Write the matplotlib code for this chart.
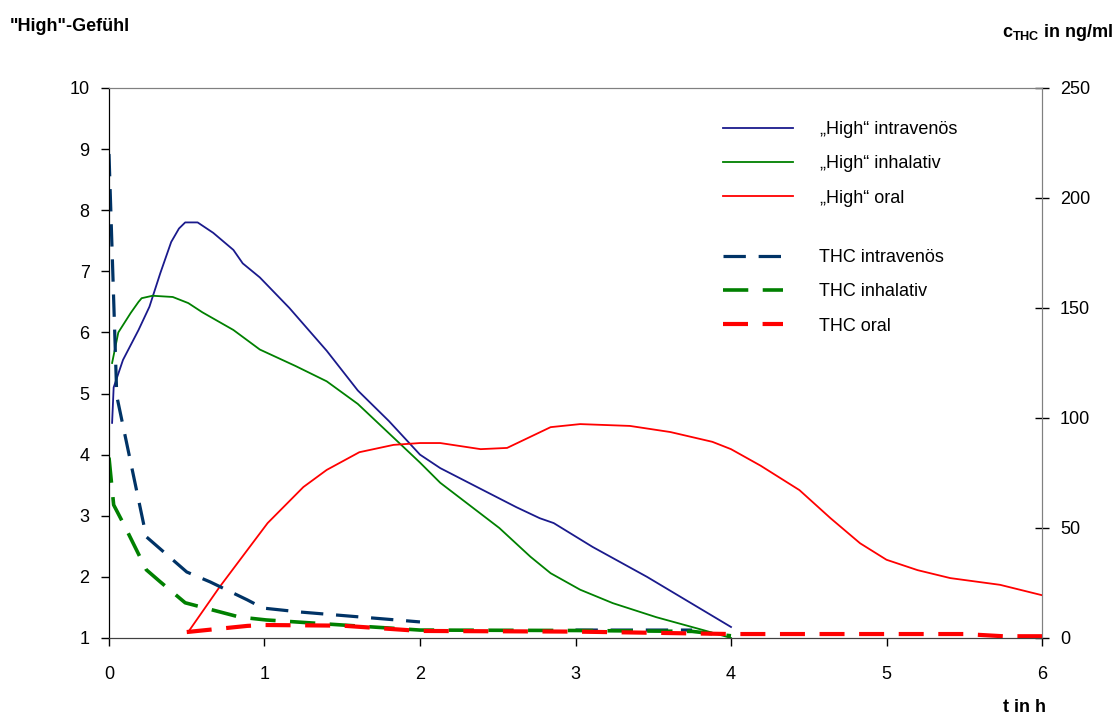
import numpy as np
import matplotlib
matplotlib.use('Agg')
from matplotlib import pyplot as plt
from matplotlib.lines import Line2D

plt.rcParams['font.family'] = ['Liberation Sans', 'DejaVu Sans']
plt.rcParams['mathtext.fontset'] = 'custom'
plt.rcParams['mathtext.bf'] = 'Liberation Sans:bold'
plt.rcParams['mathtext.rm'] = 'Liberation Sans'

# "High"-Gefuehl (linke Achse, Skala 1-10)
t_high_iv = [0.02, 0.03, 0.09, 0.19, 0.26, 0.33, 0.40, 0.45, 0.49, 0.57, 0.67, 0.80, 0.86, 0.97,
             1.16, 1.4, 1.6, 1.8, 2.0, 2.13, 2.39, 2.62, 2.77, 2.86, 3.11, 3.46, 4.0]
high_iv = [4.52, 5.1, 5.55, 6.04, 6.42, 6.97, 7.48, 7.7, 7.8, 7.8, 7.63, 7.35, 7.13, 6.9,
           6.4, 5.7, 5.05, 4.55, 4.0, 3.78, 3.44, 3.14, 2.96, 2.88, 2.49, 2.0, 1.18]

t_high_inh = [0.02, 0.06, 0.14, 0.19, 0.21, 0.28, 0.41, 0.51, 0.60, 0.80, 0.97,
              1.2, 1.4, 1.6, 1.8, 2.0, 2.13, 2.51, 2.71, 2.84, 3.03, 3.24, 3.52, 3.82, 4.0]
high_inh = [5.5, 6.0, 6.32, 6.5, 6.56, 6.6, 6.58, 6.48, 6.33, 6.04, 5.72,
            5.45, 5.2, 4.83, 4.35, 3.87, 3.54, 2.80, 2.33, 2.06, 1.79, 1.57, 1.34, 1.13, 1.0]

t_high_oral = [0.51, 0.71, 0.89, 1.02, 1.25, 1.40, 1.61, 1.83, 2.0, 2.13, 2.39, 2.56, 2.84,
               3.03, 3.35, 3.61, 3.88, 4.0, 4.19, 4.44, 4.64, 4.83, 5.0, 5.2, 5.41, 5.73, 6.0]
high_oral = [1.1, 1.83, 2.44, 2.88, 3.47, 3.75, 4.04, 4.16, 4.19, 4.19, 4.09, 4.11, 4.45,
             4.5, 4.47, 4.37, 4.21, 4.09, 3.82, 3.42, 2.96, 2.55, 2.28, 2.11, 1.98, 1.87, 1.7]

# THC-Konzentration (rechte Achse, ng/ml)
t_thc_iv = [0.0, 0.05, 0.24, 0.50, 0.65, 0.89, 0.99, 1.23, 2.0, 2.5, 3.0, 3.75]
thc_iv = [220, 110, 46, 30, 25.5, 17.3, 13.6, 11.8, 7.3, np.nan, 3.6, 3.6]

t_thc_inh = [0.0, 0.03, 0.10, 0.24, 0.33, 0.49, 0.84, 1.01, 1.5, 2.0, 3.0, 3.75, 4.0]
thc_inh = [82, 60.5, 51, 31, 25.5, 16, 9.5, 8.2, 5.9, 3.6, 3.4, 3.0, 1.0]

t_thc_oral = [0.5, 0.89, 1.0, 1.5, 2.0, 3.0, 4.0, 5.0, 5.5, 5.75, 6.0]
thc_oral = [2.7, 5.5, 5.9, 5.6, 3.2, 2.9, 1.8, 1.8, 1.8, 0.8, 0.8]

fig = plt.figure(figsize=(11.19, 7.17), dpi=100)
ax = fig.add_axes([0.0974, 0.1102, 0.8338, 0.7671])
ax2 = ax.twinx()

navy = '#1a1a8c'
blue_d = '#003366'
green = '#008000'
red = '#ff0000'

ax.plot(t_high_iv, high_iv, color=navy, lw=1.3)
ax.plot(t_high_inh, high_inh, color=green, lw=1.3)
ax.plot(t_high_oral, high_oral, color=red, lw=1.3)

ax2.plot(t_thc_iv, thc_iv, color=blue_d, lw=2.3, dashes=(7, 4))
ax2.plot(t_thc_inh, thc_inh, color=green, lw=2.6, dashes=(7, 4))
ax2.plot(t_thc_oral, thc_oral, color=red, lw=3.0, dashes=(6, 3.5))

ax.set_xlim(0, 6)
ax.set_ylim(1, 10)
ax.set_yticks(range(1, 11))
ax.set_xticks(range(0, 7))
ax2.set_ylim(0, 250)
ax2.set_yticks(range(0, 251, 50))

for a in (ax, ax2):
    a.spines['top'].set_color('#808080')
    a.spines['bottom'].set_color('#404040')
    a.spines['right'].set_color('#808080')
ax.tick_params(labelsize=13, direction='out', length=6, width=1, pad=8)
ax.tick_params(axis='x', pad=14)
ax2.tick_params(labelsize=13, direction='inout', length=10, width=1, pad=8)

fig.text(0.009, 0.963, '"High"-Gefühl', fontsize=13, fontweight='bold', va='center')
fig.text(0.995, 0.955, r'$\mathbf{c_{THC}}$ in ng/ml', fontsize=13, fontweight='bold',
         ha='right', va='center')
fig.text(0.935, 0.013, 't in h', fontsize=13, fontweight='bold', ha='right', va='center')

h_high = [Line2D([], [], color=navy, lw=1.3),
          Line2D([], [], color=green, lw=1.3),
          Line2D([], [], color=red, lw=1.3)]
h_thc = [Line2D([], [], color=blue_d, lw=2.3, dashes=(7, 4)),
         Line2D([], [], color=green, lw=2.6, dashes=(7, 4)),
         Line2D([], [], color=red, lw=3.0, dashes=(6, 3.5))]

leg1 = ax2.legend(h_high, ['„High“ intravenös', '„High“ inhalativ', '„High“ oral'],
                  loc='upper left', bbox_to_anchor=(0.658, 0.9395), frameon=False,
                  fontsize=13, handlelength=3.9, handletextpad=1.45, labelspacing=0.95,
                  borderpad=0, borderaxespad=0)
ax2.add_artist(leg1)
ax2.legend(h_thc, ['THC intravenös', 'THC inhalativ', 'THC oral'],
           loc='upper left', bbox_to_anchor=(0.658, 0.7068), frameon=False,
           fontsize=13, handlelength=3.3, handletextpad=2.0, labelspacing=0.95,
           borderpad=0, borderaxespad=0)

fig.savefig('out.png', dpi=100)
